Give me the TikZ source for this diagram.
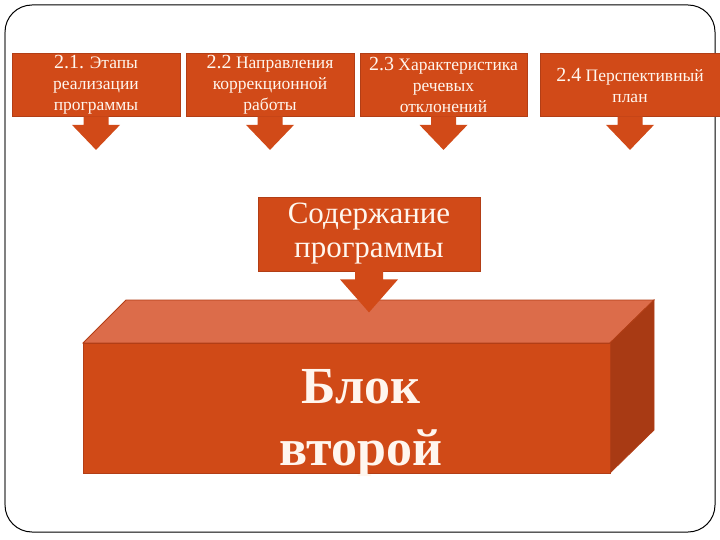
\documentclass[tikz,border=0pt]{standalone}
\usepackage{fontspec}
\setmainfont{Liberation Serif}
\usetikzlibrary{calc}
\definecolor{boxfill}{RGB}{209,74,24}
\definecolor{boxedge}{RGB}{178,62,22}
\definecolor{topface}{RGB}{220,108,74}
\definecolor{sideface}{RGB}{168,58,20}
\definecolor{frontface}{RGB}{208,74,23}
\definecolor{txtcol}{RGB}{255,246,238}
\tikzset{
  topbox/.style={draw=boxedge, line width=0.8bp, fill=boxfill, minimum height=63bp, inner sep=0pt,
    text=txtcol, align=center, font=\fontsize{17.5bp}{21bp}\selectfont},
}
\newcommand{\nm}[1]{{\fontsize{20bp}{21bp}\selectfont #1}}
\begin{document}
\begin{tikzpicture}[x=1bp,y=-1bp]
\useasboundingbox (0,0) rectangle (720,540);
\fill[white] (0,0) rectangle (720,540);
% frame
\draw[black, line width=1bp, rounded corners=27bp] (5,5) rectangle (715,532);
\draw[gray, line width=1.5bp] (5,32) -- (5,505);

% top boxes
\node[topbox, minimum width=168bp] (b1) at (96,85) {\nm{2.1.} Этапы\\реализации\\программы};
\node[topbox, minimum width=168bp] (b2) at (270,85) {\nm{2.2} Направления\\коррекционной\\работы};
\node[topbox, minimum width=167bp] (b3) at (443.5,85) {\nm{2.3} Характеристика\\речевых\\отклонений};
\node[topbox, minimum width=180bp] (b4) at (630,85) {\nm{2.4} Перспективный\\план};

\foreach \b in {b1,b2,b3,b4}{
  \fill[boxfill] ($(\b.south)+(-12.5,-0.5)$) -- ($(\b.south)+(-12.5,8)$) -- ($(\b.south)+(-24,8)$)
     -- ($(\b.south)+(0,33)$) -- ($(\b.south)+(24,8)$) -- ($(\b.south)+(12.5,8)$) -- ($(\b.south)+(12.5,-0.5)$) -- cycle;
}

% 3D block
\coordinate (fl) at (83,343);
\coordinate (fr) at (610,343);
\coordinate (br) at (654,300);
\coordinate (bl) at (126,300);
\coordinate (frb) at (610,473);
\coordinate (brb) at (654,430);
\coordinate (flb) at (83,473);
\filldraw[fill=topface, draw=boxedge, line width=0.8bp] (fl) -- (bl) -- (br) -- (fr) -- cycle;
\filldraw[fill=sideface, draw=boxedge, line width=0.8bp] (fr) -- (br) -- (brb) -- (frb) -- cycle;
\filldraw[fill=frontface, draw=boxedge, line width=0.8bp] (fl) rectangle (frb);

% middle box
\node[draw=boxedge, line width=0.8bp, fill=boxfill, minimum width=222bp, minimum height=74bp, inner sep=0pt,
  text=txtcol, align=center, font=\fontsize{31bp}{34bp}\selectfont] (mid) at (369,234) {Содержание\\программы};
\fill[boxfill] ($(mid.south)+(-14,-0.5)$) -- ($(mid.south)+(-14,8)$) -- ($(mid.south)+(-29,8)$)
  -- ($(mid.south)+(0,41)$) -- ($(mid.south)+(29,8)$) -- ($(mid.south)+(14,8)$) -- ($(mid.south)+(14,-0.5)$) -- cycle;

% block text
\node[text=txtcol, align=center, inner sep=0pt, font=\fontsize{52bp}{62bp}\selectfont\bfseries] (blk) at (361,423) {Блок\\второй};
\end{tikzpicture}
\end{document}
